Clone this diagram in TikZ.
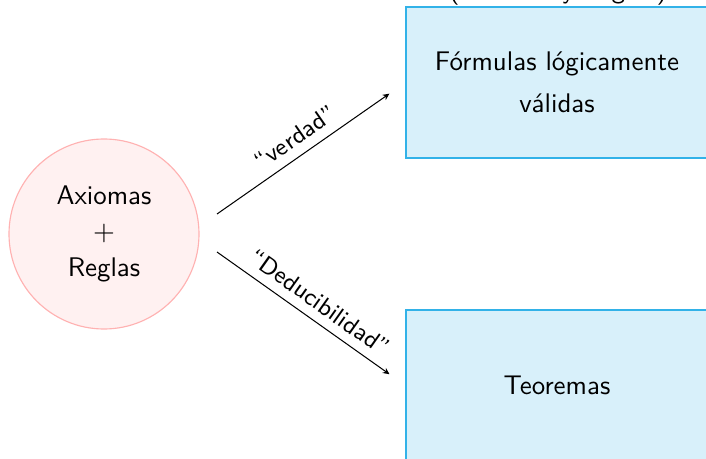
\documentclass[tikz,border=0pt]{standalone}
\usepackage{fontspec}
\setsansfont{Latin Modern Sans}
\usetikzlibrary{arrows.meta}
\definecolor{boxfill}{RGB}{216,240,250}
\definecolor{boxline}{RGB}{50,178,232}
\definecolor{circfill}{RGB}{255,241,241}
\definecolor{circline}{RGB}{255,178,178}
\begin{document}
\begin{tikzpicture}[x=0.39pt,y=-0.39pt,
  every node/.style={font=\sffamily\fontsize{10.5}{12.6}\selectfont},
  bigbox/.style={draw=boxline,fill=boxfill,line width=0.45pt,minimum width=117.8pt,minimum height=58.9pt,align=center,inner sep=0pt},
  bigcirc/.style={circle,draw=circline,fill=circfill,line width=0.45pt,minimum size=74.1pt,align=center,inner sep=0pt},
  conn/.style={-{Stealth[length=2.6pt,width=2.4pt]},line width=0.4pt,shorten >=7.6pt},
  lab/.style={above,sloped,font=\sffamily\fontsize{9.5}{11.4}\selectfont,inner sep=3.6pt}]
\clip (0,0) rectangle (706,459);
\node[bigcirc] (ax) at (104,234) {Axiomas\\[1.4pt]$+$\\[1.4pt]Reglas};
\node[bigbox] (val) at (557,82.5) {Fórmulas lógicamente\\[3.8pt]válidas};
\node[bigbox] (teo) at (557,385.5) {Teoremas};
\node[anchor=base,inner sep=0pt] (tit) at (558,-1) {(Modelos y Lógica)};
\coordinate (s1) at (217,214);
\coordinate (s2) at (217,252);
\draw[conn] (s1) -- node[lab,pos=0.47] {“verdad”} (val.west);
\draw[conn] (s2) -- node[lab,pos=0.49] {“Deducibilidad”} (teo.west);
\end{tikzpicture}
\end{document}
